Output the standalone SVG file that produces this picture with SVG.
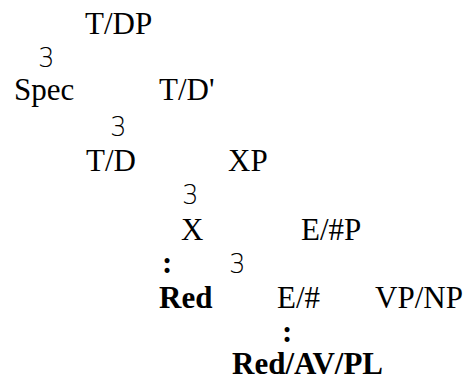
<svg xmlns="http://www.w3.org/2000/svg" width="464" height="381" viewBox="0 0 464 381">
<style>
.n{font-family:"Liberation Serif","Times New Roman",serif;font-size:31px;fill:#000}
.b{font-weight:bold}
.br{font-family:"DejaVu Sans",sans-serif;font-size:26px;font-weight:200;fill:#000}
.c{font-family:"Liberation Serif","Times New Roman",serif;font-size:31px;font-weight:bold;fill:#000}
</style>
<rect width="464" height="381" fill="#fff"/>
<g id="connectors">
<text class="br" x="38" y="67">3</text>
<text class="br" x="110" y="136">3</text>
<text class="br" x="182" y="204">3</text>
<text class="c" x="162" y="273">:</text>
<text class="br" x="229" y="273">3</text>
<text class="c" x="282" y="342">:</text>
</g>
<g id="n-tdp"><text class="n" x="85" y="34">T/DP</text></g>
<g id="n-spec"><text class="n" x="14" y="100">Spec</text></g>
<g id="n-tdbar"><text class="n" x="159" y="100">T/D'</text></g>
<g id="n-td"><text class="n" x="86" y="171">T/D</text></g>
<g id="n-xp"><text class="n" x="228" y="171">XP</text></g>
<g id="n-x"><text class="n" x="181" y="240">X</text></g>
<g id="n-ep"><text class="n" x="301" y="240">E/#P</text></g>
<g id="n-red"><text class="n b" x="159" y="308">Red</text></g>
<g id="n-e"><text class="n" x="277" y="308">E/#</text></g>
<g id="n-vpnp"><text class="n" x="375" y="308">VP/NP</text></g>
<g id="n-redavpl"><text class="n b" x="232" y="374">Red/AV/PL</text></g>
</svg>
